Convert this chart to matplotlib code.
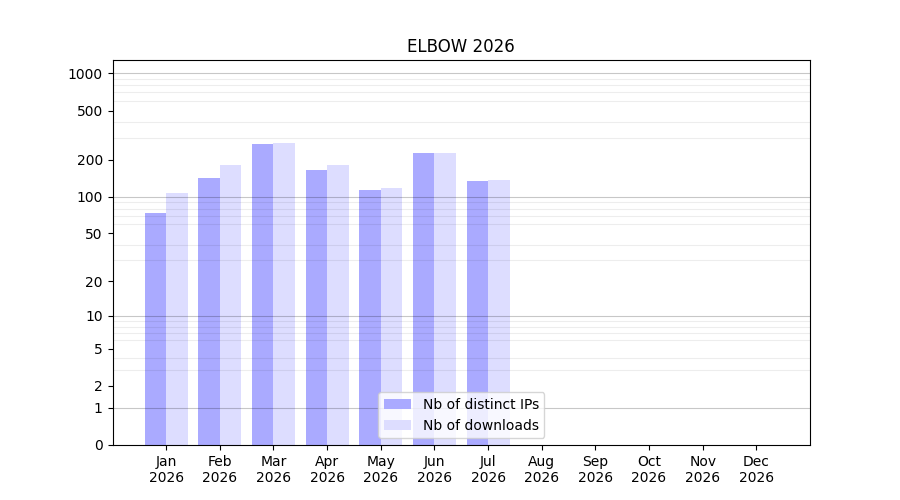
import numpy as np
import matplotlib
matplotlib.use('Agg')
import matplotlib.pyplot as plt
from matplotlib.ticker import FixedLocator, NullFormatter

months = ['Jan', 'Feb', 'Mar', 'Apr', 'May', 'Jun', 'Jul', 'Aug', 'Sep', 'Oct', 'Nov', 'Dec']
year = '2026'
distinct_ips = [73, 142, 268, 165, 113, 226, 134, 0, 0, 0, 0, 0]
downloads = [107, 181, 273, 181, 118, 226, 137, 0, 0, 0, 0, 0]

ytick_vals = [0, 1, 2, 5, 10, 20, 50, 100, 200, 500, 1000]
major_grid = [1, 10, 100, 1000]
minor_grid = [m * 10**k for k in range(3) for m in range(2, 10)]

fig = plt.figure(figsize=(9, 5), dpi=100)
ax = fig.add_subplot(111)

x = np.arange(1, len(months) + 1)
w = 0.4
ax.bar(x - w/2, distinct_ips, width=w, color='#aaaaff', label='Nb of distinct IPs', zorder=1)
ax.bar(x + w/2, downloads, width=w, color='#ddddff', label='Nb of downloads', zorder=1)

ax.set_yscale('function', functions=(lambda v: np.log10(1 + np.maximum(v, 0)),
                                     lambda v: 10**v - 1))
ax.set_ylim(0, 1280)
ax.set_xlim(0, 13)

ax.yaxis.set_major_locator(FixedLocator(ytick_vals))
ax.set_yticklabels([str(v) for v in ytick_vals])
ax.yaxis.set_minor_locator(FixedLocator(minor_grid))
ax.yaxis.set_minor_formatter(NullFormatter())
ax.tick_params(axis='y', which='minor', length=0)
ax.grid(False)
ax.grid(True, which='minor', axis='y', color='black', alpha=0.07, linewidth=0.8, zorder=2)
for g in major_grid:
    ax.axhline(g, color='black', alpha=0.22, linewidth=0.8, zorder=2)

ax.set_xticks(x)
ax.set_xticklabels(['{}\n{}'.format(m, year) for m in months])

ax.set_title('ELBOW 2026')
ax.legend(loc='lower center')

fig.savefig('out.png', dpi=100)
